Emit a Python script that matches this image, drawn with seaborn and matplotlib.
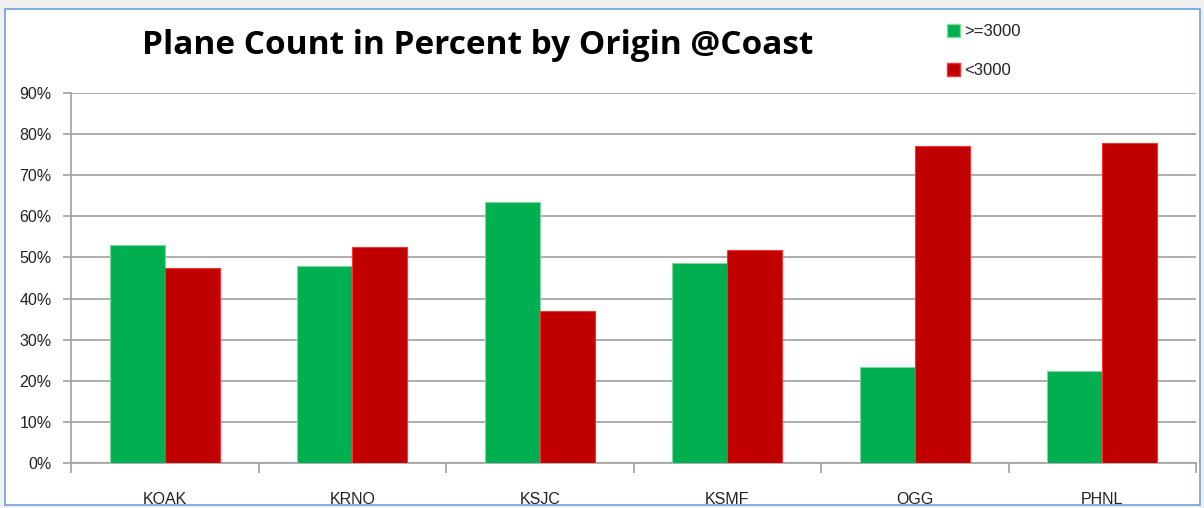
import matplotlib
matplotlib.use("Agg")
import matplotlib.pyplot as plt
import matplotlib.patches as mpatches
from matplotlib.ticker import PercentFormatter, FixedLocator
import seaborn as sns
import pandas as pd

categories = ["KOAK", "KRNO", "KSJC", "KSMF", "OGG", "PHNL"]
ge3000 = [0.530, 0.479, 0.635, 0.487, 0.234, 0.224]
lt3000 = [0.474, 0.526, 0.370, 0.518, 0.771, 0.779]
series_names = [">=3000", "<3000"]
yticks = [0, 0.1, 0.2, 0.3, 0.4, 0.5, 0.6, 0.7, 0.8, 0.9]

df = pd.DataFrame({
    "origin": categories * 2,
    "value": ge3000 + lt3000,
    "series": [series_names[0]] * len(categories) + [series_names[1]] * len(categories),
})

sns.set_style("white")
plt.rcParams["font.family"] = ["Liberation Sans", "DejaVu Sans"]
plt.rcParams["text.color"] = "#222222"

fig = plt.figure(figsize=(12.04, 5.08), dpi=100)
fig.patch.set_facecolor("#f0f0f0")
# chart area frame
frame = mpatches.Rectangle((5 / 1204, 3 / 508), 1195 / 1204, 496 / 508,
                           transform=fig.transFigure, facecolor="white",
                           edgecolor="#6f9fd8", linewidth=1.2, zorder=-10)
fig.patches.append(frame)

ax = fig.add_axes([71 / 1204, 1 - 463 / 508, 1125 / 1204, 370 / 508])
ax.set_facecolor("none")
palette = {series_names[0]: "#00B050", series_names[1]: "#C00000"}
sns.barplot(data=df, x="origin", y="value", hue="series", palette=palette,
            width=0.585, ax=ax, saturation=1, legend=False, zorder=3)
edge = {0: "#7fd8a0", 1: "#ff3030"}
for i, cont in enumerate(ax.containers):
    for p in cont:
        p.set_edgecolor(edge[i])
        p.set_linewidth(0.8)

ax.set_ylim(0, 0.9)
ax.set_xlim(-0.5, len(categories) - 0.5)
ax.set_yticks(yticks)
ax.yaxis.set_major_formatter(PercentFormatter(1.0, decimals=0))
ax.grid(axis="y", color="#a0a0a0", linewidth=1.2, zorder=0)
ax.set_axisbelow(True)
for s in ["top", "right"]:
    ax.spines[s].set_visible(False)
for s in ["left", "bottom"]:
    ax.spines[s].set_color("#a0a0a0")
    ax.spines[s].set_linewidth(1.2)
ax.tick_params(axis="y", left=True, length=6, width=1.2, color="#a0a0a0", labelsize=11.5,
               pad=8, labelcolor="#222222")
ax.tick_params(axis="x", which="major", bottom=True, length=0, labelsize=11.5, pad=21,
               labelcolor="#222222")
ax.xaxis.set_minor_locator(FixedLocator([i - 0.5 for i in range(len(categories) + 1)]))
ax.tick_params(axis="x", which="minor", bottom=True, length=7, width=1.2, color="#a0a0a0")
ax.set_xlabel("")
ax.set_ylabel("")

fig.text(478 / 1204, 1 - 45 / 508, "Plane Count in Percent by Origin @Coast",
         ha="center", va="center", fontsize=24, fontweight="bold", color="black",
         family=["Open Sans", "DejaVu Sans"])

handles = [mpatches.Patch(facecolor="#00B050", edgecolor=edge[0], label=series_names[0]),
           mpatches.Patch(facecolor="#C00000", edgecolor=edge[1], label=series_names[1])]
fig.legend(handles=handles, loc="center left", bbox_to_anchor=(932 / 1204, 1 - 51 / 508),
           frameon=False, fontsize=12, handlelength=0.8, handleheight=0.8,
           handletextpad=0.2, labelspacing=1.45)

fig.savefig("out.png", dpi=100, facecolor=fig.get_facecolor())
